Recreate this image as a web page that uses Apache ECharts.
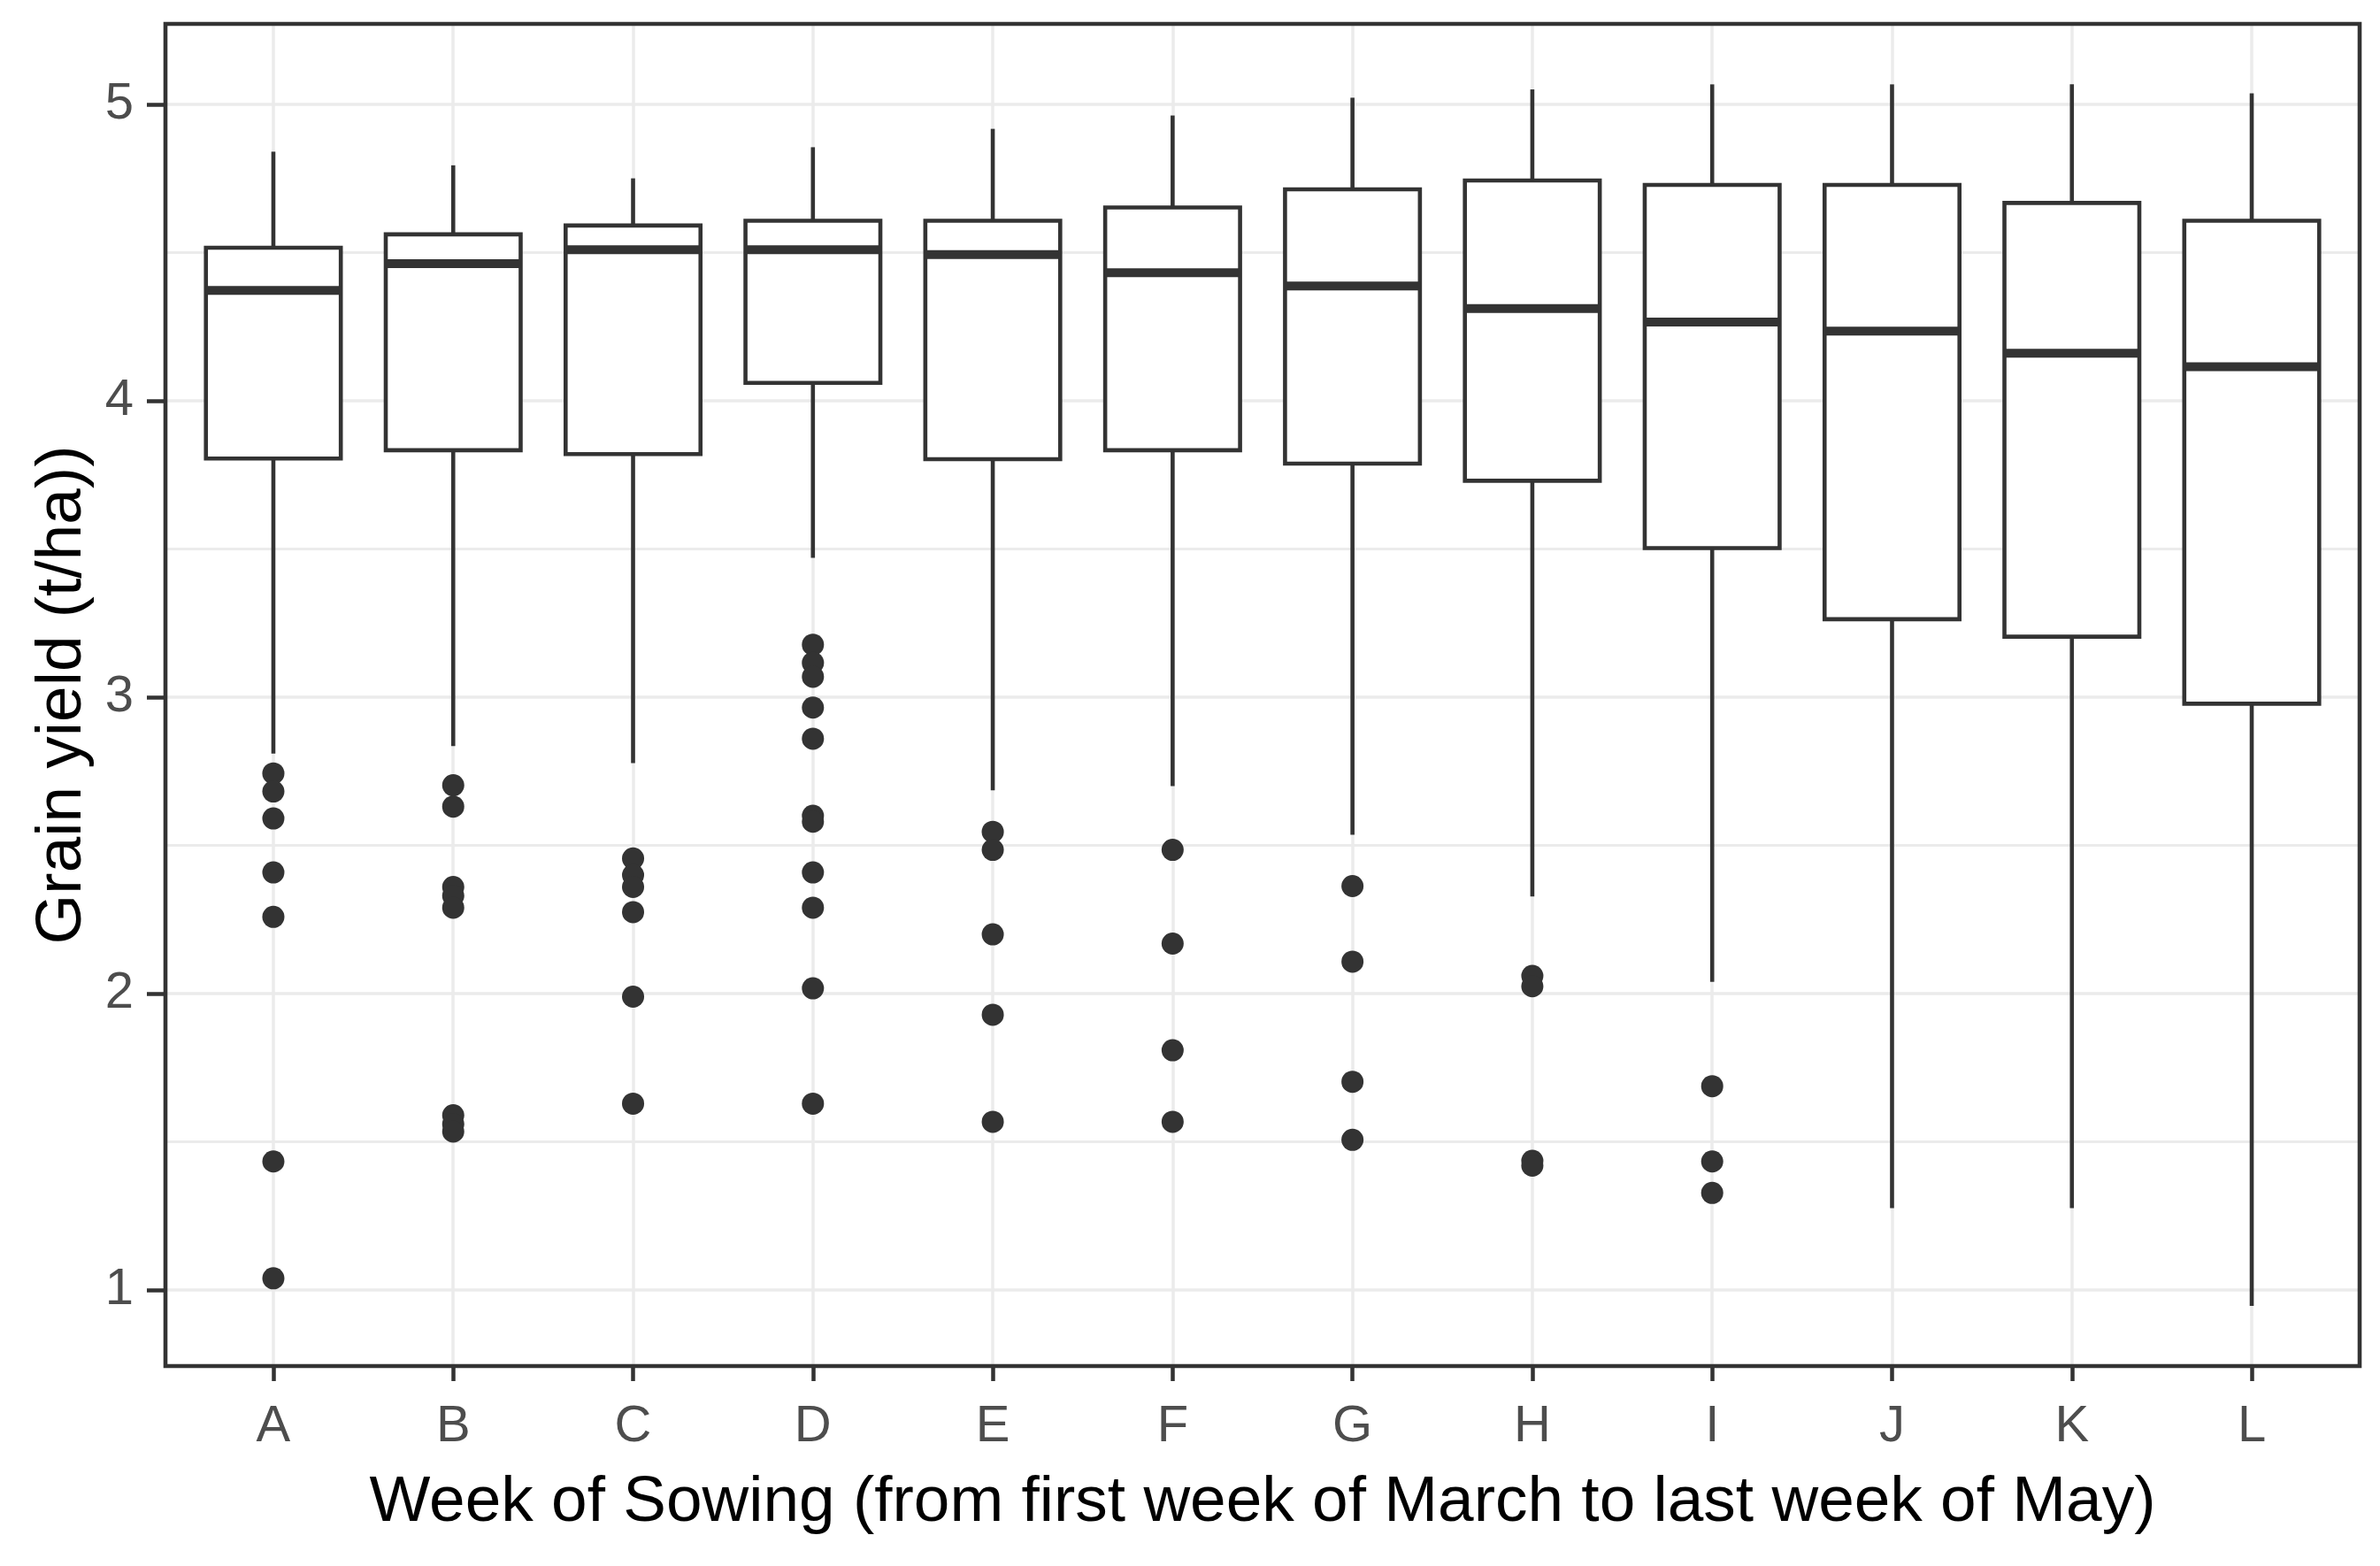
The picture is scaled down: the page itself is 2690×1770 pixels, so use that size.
<!DOCTYPE html>
<html>
<head>
<meta charset="utf-8">
<script src="https://cdn.jsdelivr.net/npm/echarts@6/dist/echarts.min.js"></script>
<style>
html,body{margin:0;padding:0;background:#fff;}
#chart{width:2690px;height:1770px;}
</style>
</head>
<body>
<div id="chart"></div>
<script>
// ---- data ----
const categories = ['A','B','C','D','E','F','G','H','I','J','K','L'];
const whiskerLow  = [2.81, 2.835, 2.778, 3.47, 2.686, 2.70, 2.536, 2.328, 2.04, 1.277, 1.277, 0.947];
const q1          = [3.805, 3.833, 3.82, 4.06, 3.803, 3.833, 3.788, 3.73, 3.503, 3.263, 3.204, 2.978];
const medianVals  = [4.372, 4.462, 4.509, 4.509, 4.493, 4.432, 4.387, 4.311, 4.265, 4.235, 4.16, 4.115];
const q3          = [4.516, 4.561, 4.591, 4.607, 4.607, 4.652, 4.713, 4.743, 4.728, 4.728, 4.667, 4.607];
const whiskerHigh = [4.84, 4.794, 4.75, 4.855, 4.917, 4.962, 5.022, 5.05, 5.067, 5.067, 5.067, 5.037];
const outliers = [
  [2.743, 2.682, 2.591, 2.409, 2.259, 1.434, 1.04],
  [2.703, 2.631, 2.36, 2.33, 2.29, 1.59, 1.56, 1.535],
  [2.456, 2.40, 2.36, 2.275, 1.99, 1.629],
  [3.177, 3.116, 3.069, 2.965, 2.86, 2.60, 2.58, 2.409, 2.29, 2.018, 1.629],
  [2.546, 2.485, 2.20, 1.929, 1.568],
  [2.485, 2.169, 1.809, 1.568],
  [2.363, 2.108, 1.703, 1.507],
  [2.06, 2.025, 1.436, 1.42],
  [1.688, 1.434, 1.328],
  [],
  [],
  []
];
const yTicks = [1, 2, 3, 4, 5];
const xTitle = 'Week of Sowing (from first week of March to last week of May)';
const yTitle = 'Grain yield (t/ha))';

// ---- build series data ----
const boxData = categories.map((c, i) => [i, whiskerLow[i], q1[i], medianVals[i], q3[i], whiskerHigh[i]]);
const outlierData = [];
outliers.forEach((arr, i) => arr.forEach(v => outlierData.push([i, v])));
const xIdx = categories.map((c, i) => i);

const INK = '#333333';
const BOX_W = 0.75;
const LW = 4.6;

function renderBox(params, api) {
  const x = api.value(0);
  const lo = api.coord([x, api.value(1)]);
  const b1 = api.coord([x, api.value(2)]);
  const md = api.coord([x, api.value(3)]);
  const b3 = api.coord([x, api.value(4)]);
  const hi = api.coord([x, api.value(5)]);
  const half = api.size([BOX_W, 0])[0] / 2;
  const ls = {stroke: INK, lineWidth: LW, fill: 'none'};
  return {
    type: 'group',
    children: [
      {type: 'line', shape: {x1: lo[0], y1: lo[1], x2: b1[0], y2: b1[1]}, style: ls},
      {type: 'line', shape: {x1: b3[0], y1: b3[1], x2: hi[0], y2: hi[1]}, style: ls},
      {type: 'rect', shape: {x: b3[0] - half, y: b3[1], width: 2 * half, height: b1[1] - b3[1]},
        style: {fill: '#ffffff', stroke: INK, lineWidth: LW}},
      {type: 'line', shape: {x1: md[0] - half, y1: md[1], x2: md[0] + half, y2: md[1]},
        style: {stroke: INK, lineWidth: 10, lineCap: 'butt'}}
    ]
  };
}

const chart = echarts.init(document.getElementById('chart'), null, {renderer: 'canvas'});
const FONT = 'Liberation Sans, Arial, sans-serif';
chart.setOption({
  animation: false,
  backgroundColor: '#ffffff',
  grid: {
    left: 187, right: 23, top: 27, bottom: 226,
    show: true, z: 10, backgroundColor: 'transparent',
    borderColor: INK, borderWidth: 4.6
  },
  xAxis: {
    type: 'value',
    min: -0.6, max: 11.6,
    axisLine: {show: false, onZero: false},
    axisTick: {show: true, customValues: xIdx, length: 17, lineStyle: {color: INK, width: 4.5}},
    axisLabel: {
      customValues: xIdx,
      formatter: v => categories[Math.round(v)] || '',
      color: '#4d4d4d', fontSize: 58, fontFamily: FONT, margin: 40
    },
    splitLine: {show: true, lineStyle: {color: '#ebebeb', width: 3.5}},
    name: xTitle,
    nameLocation: 'middle',
    nameGap: 118,
    nameTextStyle: {color: '#000000', fontSize: 73, fontFamily: FONT}
  },
  yAxis: {
    type: 'value',
    min: 0.744, max: 5.271,
    splitNumber: 5,
    axisLine: {show: false, onZero: false},
    axisTick: {show: true, customValues: yTicks, length: 21, lineStyle: {color: INK, width: 4.5}},
    axisLabel: {customValues: yTicks, color: '#4d4d4d', fontSize: 58, fontFamily: FONT, margin: 36},
    splitLine: {show: true, lineStyle: {color: '#ebebeb', width: 3.5}},
    minorTick: {show: false, splitNumber: 2},
    minorSplitLine: {show: true, lineStyle: {color: '#ebebeb', width: 2.8}},
    name: yTitle,
    nameLocation: 'middle',
    nameRotate: 90,
    nameGap: 80,
    nameTextStyle: {color: '#000000', fontSize: 73, fontFamily: FONT}
  },
  series: [
    {
      type: 'custom',
      name: 'box',
      renderItem: renderBox,
      encode: {x: 0, y: [1, 2, 3, 4, 5]},
      data: boxData,
      z: 2
    },
    {
      type: 'scatter',
      name: 'outliers',
      data: outlierData,
      symbol: 'circle',
      symbolSize: 25,
      itemStyle: {color: INK, opacity: 1},
      z: 3
    }
  ]
});
</script>
</body>
</html>
